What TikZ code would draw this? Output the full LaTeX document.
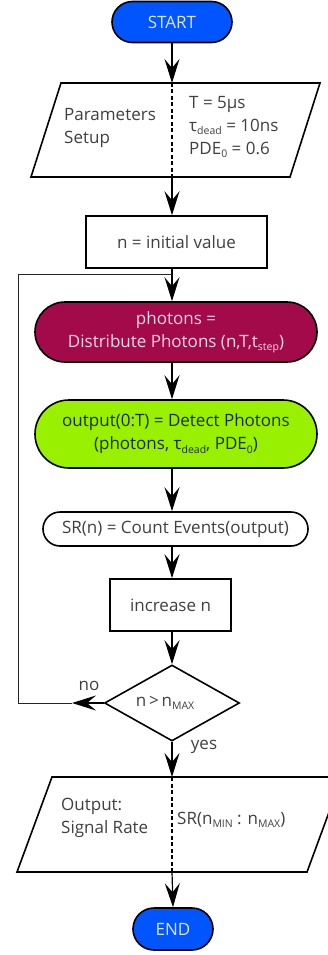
\documentclass[tikz,border=0pt]{standalone}
\usepackage{fontspec}
\setmainfont{Open Sans}
\usetikzlibrary{arrows.meta,shapes.geometric,shapes.misc}

% small lowered index text, e.g. tau_dead
\newcommand\lsub[1]{\raisebox{-0.35ex}{\fontsize{10.5}{10.5}\selectfont #1}}

\definecolor{termblue}{HTML}{0055FF}
\definecolor{termtext}{HTML}{DDE6FF}
\definecolor{crimson}{HTML}{A30A4A}
\definecolor{crimsontext}{HTML}{F6D6E6}
\definecolor{lime}{HTML}{99F000}
\definecolor{limetext}{HTML}{1C2E00}
\definecolor{ink}{HTML}{404040}

\tikzset{
  boxline/.style={draw=black, line width=1.6pt},
  pill/.style={boxline, shape=rounded rectangle, inner sep=0pt, align=center},
  procbox/.style={boxline, rectangle, fill=white, inner sep=0pt, text=ink},
  plaintext/.style={inner sep=0pt, text=ink},
  arr/.style={line width=1.2pt, -{Stealth[length=24pt,width=15pt,inset=9pt]}},
  conn/.style={line width=1.2pt},
  loopline/.style={line width=1pt, draw=black!85},
  splitline/.style={line width=1.5pt, dash pattern=on 4pt off 2.5pt},
}

\begin{document}
\begin{tikzpicture}[x=1pt, y=-1pt, font=\fontsize{17}{23}\selectfont]
\clip (0,0) rectangle (328,955);
\useasboundingbox (0,0) rectangle (328,955);

% terminals
\node[pill, fill=termblue, text=termtext, minimum width=120pt, minimum height=41pt] (start) at (172,22) {START};
\node[pill, fill=termblue, text=termtext, minimum width=80pt, minimum height=42pt] (stop) at (173,929) {END};

% parameter input block
\coordinate (p1tl) at (61,83);
\coordinate (p1tr) at (320,83);
\coordinate (p1br) at (290,177);
\coordinate (p1bl) at (31,177);
\coordinate (p1t) at (172,83);
\coordinate (p1b) at (172,177);
\draw[boxline, fill=white] (p1tl) -- (p1tr) -- (p1br) -- (p1bl) -- cycle;
\draw[splitline] (p1t) -- (p1b);
\node[plaintext, anchor=west, align=left] (plabel) at (64,128) {Parameters\\Setup};
\node[plaintext, anchor=west, align=left] (pvals) at (189,127) {T = 5μs\\τ\lsub{dead} = 10ns\\PDE\lsub{0} = 0.6};

% process steps
\node[procbox, minimum width=181pt, minimum height=52pt] (init) at (176.5,242) {n = initial value};
\node[pill, fill=crimson, text=crimsontext, minimum width=282pt, minimum height=60pt] (distrib) at (176,332)
  {photons =\\Distribute Photons (n,T,t\lsub{step})};
\node[pill, fill=lime, text=limetext, minimum width=282pt, minimum height=68pt] (detect) at (176,434)
  {output(0:T) = Detect Photons\\(photons, τ\lsub{dead}, PDE\lsub{0})};
\node[pill, fill=white, text=ink, minimum width=265pt, minimum height=34pt] (count) at (175.5,529)
  {SR(n) = Count Events(output)};
\node[procbox, minimum width=121pt, minimum height=52pt] (incr) at (170.5,605) {increase n};

% decision
\node[boxline, diamond, fill=white, inner sep=0pt, minimum width=135pt, minimum height=76pt] (dm) at (172,703) {};
\node[plaintext] (dmtext) at (165,703) {n\,>\,n\lsub{MAX}};
\node[plaintext] (nolabel) at (89,686) {no};
\node[plaintext] (yeslabel) at (204,747) {yes};

% output block
\coordinate (p2tl) at (52,777);
\coordinate (p2tr) at (342,777);
\coordinate (p2br) at (307,872);
\coordinate (p2bl) at (17,872);
\coordinate (p2t) at (172,777);
\coordinate (p2b) at (172,872);
\draw[boxline, fill=white] (p2tl) -- (p2tr) -- (p2br) -- (p2bl) -- cycle;
\draw[splitline] (p2t) -- (p2b);
\node[plaintext, anchor=west, align=left] (olabel) at (61,818) {Output:\\Signal Rate};
\node[plaintext, anchor=west] (ovals) at (177,820) {SR(n\lsub{MIN} : n\lsub{MAX})};

% loop back path
\coordinate (notip) at (72,703);
\coordinate (lc1) at (18,703);
\coordinate (lc2) at (18,274);
\coordinate (join) at (172,274);

% connectors
\draw[arr] (start) -- (p1t);
\draw[arr] (p1b) -- (p1b |- init.north);
\draw[conn] (p1b |- init.south) -- (join);
\draw[arr] (join) -- (join |- distrib.north);
\draw[arr] (join |- distrib.south) -- (join |- detect.north);
\draw[arr] (join |- detect.south) -- (join |- count.north);
\draw[arr] (join |- count.south) -- (join |- incr.north);
\draw[arr] (join |- incr.south) -- (dm.north);
\draw[arr] (dm.west) -- (notip);
\draw[loopline] (notip) -- (lc1) -- (lc2) -- (join);
\draw[arr] (dm.south) -- (p2t);
\draw[arr] (p2b) -- (stop.north);
\end{tikzpicture}
\end{document}
